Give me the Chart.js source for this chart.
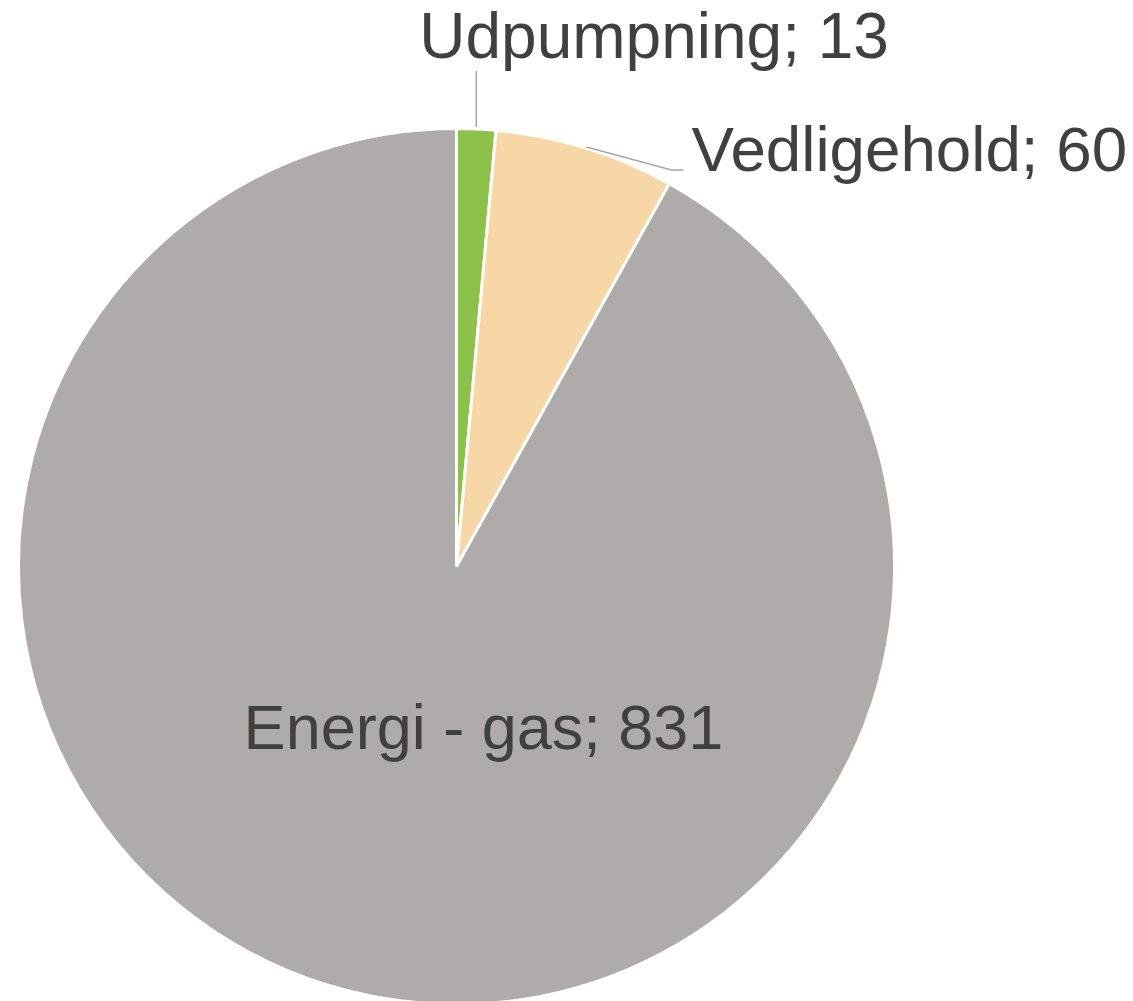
<!DOCTYPE html>
<html>
<head>
  <meta charset="utf-8" />
  <title>Udgifter</title>
  <script src="https://cdn.jsdelivr.net/npm/chart.js"></script>
  <style>
    html, body { margin: 0; padding: 0; background: #fff; overflow: hidden; }
    #wrap { width: 1133px; height: 1006px; position: relative; }
  </style>
</head>
<body>
  <div id="wrap"><canvas id="pieChart"></canvas></div>

  <script>
    // Data
    const categories = ['Udpumpning', 'Vedligehold', 'Energi - gas'];
    const values = [13, 60, 831];
    const colors = ['#8CC24A', '#F8D7A6', '#AFABAB'];

    const textColor = '#404040';
    const leaderColor = '#A6A6A6';

    // Draws the "name; value" labels and leader lines like Excel does
    const pieLabels = {
      id: 'pieLabels',
      afterDraw(chart) {
        const ctx = chart.ctx;
        const arcs = chart.getDatasetMeta(0).data;
        ctx.save();
        ctx.fillStyle = textColor;
        ctx.strokeStyle = leaderColor;
        ctx.lineWidth = 1.5;
        ctx.textBaseline = 'alphabetic';

        arcs.forEach((arc, i) => {
          const p = arc.getProps(['x', 'y', 'startAngle', 'endAngle', 'outerRadius'], true);
          const mid = (p.startAngle + p.endAngle) / 2;
          const ex = p.x + Math.cos(mid) * p.outerRadius;
          const ey = p.y + Math.sin(mid) * p.outerRadius;
          const text = categories[i] + '; ' + values[i];

          if (i === 0) {
            // straight up to the label
            ctx.font = '64px "Liberation Sans", Arial, sans-serif';
            ctx.beginPath();
            ctx.moveTo(ex, ey - 2);
            ctx.lineTo(ex, ey - 58);
            ctx.stroke();
            ctx.textAlign = 'left';
            ctx.fillText(text, ex - 57, 58);
          } else if (i === 1) {
            ctx.font = '63.7px "Liberation Sans", Arial, sans-serif';
            ctx.beginPath();
            ctx.moveTo(ex + 1, ey - 1);
            ctx.lineTo(ex + 86, ey + 22);
            ctx.lineTo(ex + 98, ey + 22);
            ctx.stroke();
            ctx.textAlign = 'left';
            ctx.fillText(text, ex + 106, ey + 23);
          } else {
            ctx.font = '63px "Liberation Sans", Arial, sans-serif';
            ctx.textAlign = 'center';
            ctx.fillText(text, p.x + 27, p.y + 182);
          }
        });
        ctx.restore();
      }
    };

    const ctx = document.getElementById('pieChart').getContext('2d');
    new Chart(ctx, {
      type: 'pie',
      data: {
        labels: categories,
        datasets: [{
          data: values,
          backgroundColor: colors,
          borderColor: '#FFFFFF',
          borderWidth: 3
        }]
      },
      options: {
        responsive: true,
        maintainAspectRatio: false,
        animation: false,
        layout: { padding: { left: 17, right: 237, top: 127, bottom: 0 } },
        plugins: {
          legend: { display: false },
          tooltip: { enabled: false }
        }
      },
      plugins: [pieLabels]
    });
  </script>
</body>
</html>
